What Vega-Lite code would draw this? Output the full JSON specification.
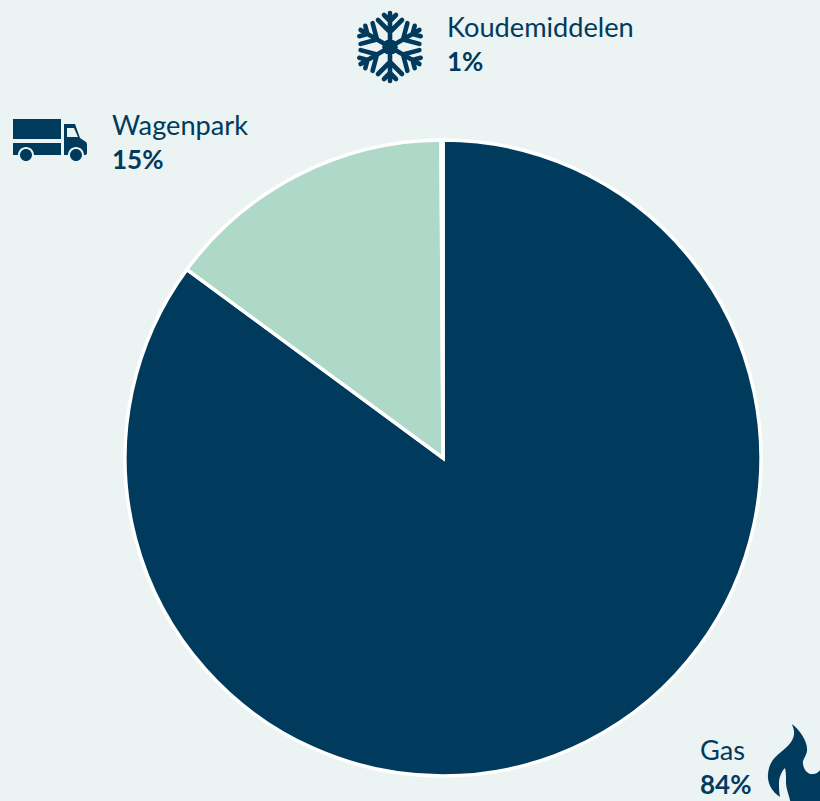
{
  "$schema": "https://vega.github.io/schema/vega-lite/v6.json",
  "width": 820,
  "height": 801,
  "padding": 0,
  "autosize": {"type": "none"},
  "background": "#EBF3F3",
  "config": {"view": {"stroke": null}},
  "data": {"values": [
    {"rank": 1, "category": "Gas", "value": 85.1, "label": "84%"},
    {"rank": 2, "category": "Wagenpark", "value": 14.8, "label": "15%"},
    {"rank": 3, "category": "Koudemiddelen", "value": 0.1, "label": "1%"}
  ]},
  "resolve": {"scale": {"x": "independent", "y": "independent"}},
  "layer": [
    {
      "mark": {"type": "arc", "outerRadius": 318, "stroke": "#FFFFFF", "strokeWidth": 3.5},
      "encoding": {
        "theta": {"field": "value", "type": "quantitative", "stack": true},
        "order": {"field": "rank", "type": "quantitative"},
        "color": {"field": "category", "type": "nominal", "legend": null,
          "scale": {"domain": ["Gas", "Wagenpark", "Koudemiddelen"], "range": ["#003A5D", "#AED8C7", "#FFFFFF"]}},
        "x": {"value": 443},
        "y": {"value": 458}
      }
    },
    {
      "mark": {"type": "text", "align": "left", "baseline": "alphabetic", "font": "Lato", "fontSize": 27.2, "color": "#003A5D"},
      "encoding": {
        "text": {"field": "category", "type": "nominal"},
        "x": {"field": "rank", "type": "quantitative", "axis": null, "scale": {"domain": [1, 2, 3], "range": [700, 112, 447]}},
        "y": {"field": "rank", "type": "quantitative", "axis": null, "scale": {"domain": [1, 2, 3], "range": [760, 135, 37]}}
      }
    },
    {
      "mark": {"type": "text", "align": "left", "baseline": "alphabetic", "font": "Lato", "fontSize": 26, "fontWeight": "bold", "color": "#003A5D"},
      "encoding": {
        "text": {"field": "label", "type": "nominal"},
        "x": {"field": "rank", "type": "quantitative", "axis": null, "scale": {"domain": [1, 2, 3], "range": [700, 112, 447]}},
        "y": {"field": "rank", "type": "quantitative", "axis": null, "scale": {"domain": [1, 2, 3], "range": [794, 169, 71]}}
      }
    },
    {
      "mark": {"type": "point", "filled": true, "size": 4, "stroke": "#003A5D", "opacity": 1, "strokeCap": "round", "strokeJoin": "round"},
      "encoding": {
        "x": {"field": "rank", "type": "quantitative", "axis": null, "scale": {"domain": [1, 2, 3], "range": [800, 50, 390]}},
        "y": {"field": "rank", "type": "quantitative", "axis": null, "scale": {"domain": [1, 2, 3], "range": [770, 139, 47]}},
        "strokeWidth": {"condition": {"test": "datum.rank === 3", "value": 4.6}, "value": 0},
        "fill": {"condition": {"test": "datum.rank === 3", "value": "transparent"}, "value": "#003A5D"},
        "shape": {"field": "category", "type": "nominal", "legend": null,
          "scale": {"domain": ["Gas", "Wagenpark", "Koudemiddelen"], "range": [
            "M-8.3 -46 C0 -40 8 -28 7 -19 C6 -13 2 -10 3 -6 C4 1 9 5 13 4 C16 4 19 2 20 0 L30 10 V40 H-8 C-10 26 -14 20 -14 12 C-14 6 -14 2 -15 -2 C-19 2 -21 8 -21 13 C-21 18 -21 22 -20 27 C-28 22 -33 13 -32 4 C-31 -8 -25 -13 -19 -18 C-12 -24 -1 -32 -8.3 -46 Z",
            "M-37 -20 H11 V0 H-37 Z M-37 4 H11 V16 H-16 A8 8 0 0 0 -32 16 H-37 Z M-30 16 A6 6 0 1 1 -18 16 A6 6 0 1 1 -30 16 Z M14 -15 H25 L30 -1 L36 3 Q37 4 37 6 V14 Q37 16 34 16 A8 8 0 0 0 18 16 H14 Z M17 -11 V-2 H28 L24 -11 Z M20 16 A6 6 0 1 1 32 16 A6 6 0 1 1 20 16 Z",
            "M0 0 L0 -34 M-12 -27 L0 -15 L12 -27 M-6 -32 L0 -26 L6 -32 M0 0 L29.4 -17 M17.4 -23.9 L13 -7.5 L29.4 -3.1 M24.7 -21.2 L22.5 -13 L30.7 -10.8 M0 0 L29.4 17 M29.4 3.1 L13 7.5 L17.4 23.9 M30.7 10.8 L22.5 13 L24.7 21.2 M0 0 L0 34 M12 27 L0 15 L-12 27 M6 32 L0 26 L-6 32 M0 0 L-29.4 17 M-17.4 23.9 L-13 7.5 L-29.4 3.1 M-24.7 21.2 L-22.5 13 L-30.7 10.8 M0 0 L-29.4 -17 M-29.4 -3.1 L-13 -7.5 L-17.4 -23.9 M-30.7 -10.8 L-22.5 -13 L-24.7 -21.2 M-5.5 0 L-2.8 -4.8 L2.8 -4.8 L5.5 0 L2.8 4.8 L-2.8 4.8 Z M-3 0 L3 0 M0 -2.5 L0 2.5"
          ]}}
      }
    }
  ]
}
